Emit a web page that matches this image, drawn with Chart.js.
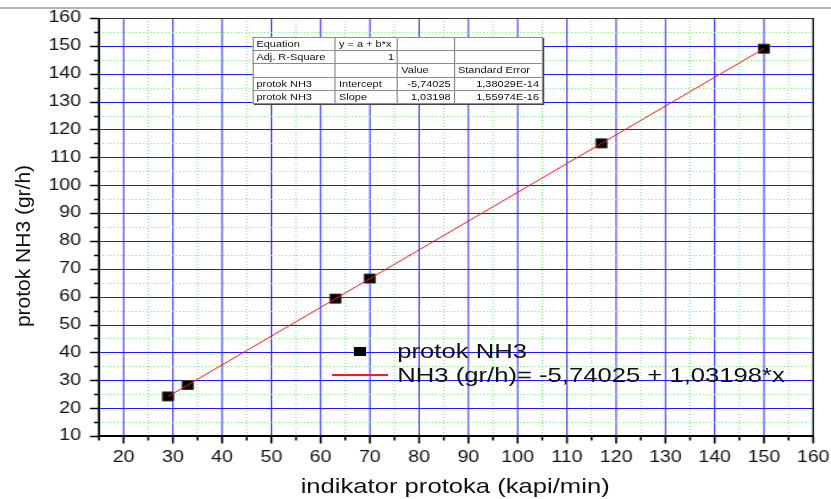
<!DOCTYPE html>
<html>
<head>
<meta charset="utf-8">
<script src="https://cdn.jsdelivr.net/npm/chart.js@4.4.1/dist/chart.umd.min.js"></script>
<style>
  body { margin: 0; background: #fff; width: 831px; height: 499px; overflow: hidden; position: relative; font-family: Arial, "Liberation Sans", sans-serif; }
  #pageline { position: absolute; left: 0; top: 7px; width: 831px; height: 2px; background: #b4b4b4; }
  /* the original picture is stretched sideways, so the whole chart is too */
  #wrap { position: absolute; left: 0; top: 0; width: 681px; height: 499px; transform: scaleX(1.2203); transform-origin: 0 0; }
  #fitTable { position: absolute; left: 206.6px; top: 36.7px; border-collapse: collapse; table-layout: fixed; background: #fff; font-size: 9px; color: #111; box-shadow: 1px 1px 0 #444; }
  #fitTable td { border: 1px solid #8c8c8c; height: 12.3px; padding: 0 2.5px; line-height: 12px; white-space: nowrap; overflow: hidden; }
  #fitTable td.r { text-align: right; }
  .leg { position: absolute; font-size: 21px; line-height: 24px; color: #111; white-space: nowrap; }
  #xTitle { position: absolute; left: 173px; width: 400px; top: 474px; text-align: center; font-size: 21px; line-height: 24px; color: #111; }
  #yTitle { position: absolute; left: -127px; top: 234px; width: 300px; text-align: center; font-size: 21px; line-height: 24px; color: #111; transform: rotate(-90deg); }
</style>
</head>
<body>
<div id="pageline"></div>
<div id="wrap">
  <canvas id="nh3-chart" width="681" height="499"></canvas>
  <table id="fitTable">
    <colgroup><col style="width:67.7px"><col style="width:51.1px"><col style="width:46.4px"><col style="width:72.5px"></colgroup>
    <tr><td>Equation</td><td>y = a + b*x</td><td></td><td></td></tr>
    <tr><td>Adj. R-Square</td><td class="r">1</td><td></td><td></td></tr>
    <tr><td></td><td></td><td>Value</td><td>Standard Error</td></tr>
    <tr><td>protok NH3</td><td>Intercept</td><td class="r">-5,74025</td><td class="r">1,38029E-14</td></tr>
    <tr><td>protok NH3</td><td>Slope</td><td class="r">1,03198</td><td class="r">1,55974E-16</td></tr>
  </table>
  <div style="position:absolute; left:290.1px; top:347px; width:9.8px; height:9px; background:#000;"></div>
  <div class="leg" style="left:325.6px; top:339px;">protok NH3</div>
  <div style="position:absolute; left:272px; top:374.4px; width:46px; height:1.3px; background:#ff1a1a;"></div>
  <div class="leg" style="left:325.6px; top:363px;">NH3 (gr/h)= -5,74025 + 1,03198*x</div>
  <div id="xTitle">indikator protoka (kapi/min)</div>
</div>
<div id="yTitle">protok NH3 (gr/h)</div>

<script>
// measured points (indikator protoka vs protok NH3)
const flowX = [29, 33, 63, 70, 117, 150];
const flowY = [24.2, 28.3, 59.3, 66.5, 115.0, 149.0];

// linear fit drawn between the first and last point
const fitX = [29, 150];
const fitY = [24.19, 149.06];

// tick labels
const xTicks = [20, 30, 40, 50, 60, 70, 80, 90, 100, 110, 120, 130, 140, 150, 160];
const yTicks = [10, 20, 30, 40, 50, 60, 70, 80, 90, 100, 110, 120, 130, 140, 150, 160];

const xMin = 15, xMax = 160;
const yMin = 10, yMax = 160;

const pointsData = flowX.map((x, i) => ({x: x, y: flowY[i]}));
const fitData = fitX.map((x, i) => ({x: x, y: fitY[i]}));

// grid, frame and tick marks, Origin style
const originFrame = {
  id: 'originFrame',
  beforeDatasetsDraw(chart) {
    const ctx = chart.ctx;
    const area = chart.chartArea;
    const xs = chart.scales.x, ys = chart.scales.y;
    ctx.save();
    for (let v = xMin + 5; v < xMax; v += 5) {
      const px = xs.getPixelForValue(v);
      ctx.beginPath();
      if (v % 10 === 0) { ctx.strokeStyle = '#0000ff'; ctx.setLineDash([]); ctx.lineWidth = 0.85; }
      else { ctx.strokeStyle = '#6ef06e'; ctx.setLineDash([1, 2]); ctx.lineWidth = 1; }
      ctx.moveTo(px, area.top);
      ctx.lineTo(px, area.bottom);
      ctx.stroke();
    }
    for (let v = yMin + 5; v < yMax; v += 5) {
      const py = Math.round(ys.getPixelForValue(v)) + 0.5;
      ctx.beginPath();
      if (v % 10 === 0) { ctx.strokeStyle = '#1a1aff'; ctx.setLineDash([]); ctx.lineWidth = 1; }
      else { ctx.strokeStyle = '#6ef06e'; ctx.setLineDash([1, 2]); ctx.lineWidth = 1; }
      ctx.moveTo(area.left, py);
      ctx.lineTo(area.right, py);
      ctx.stroke();
    }
    ctx.restore();
  },
  afterDraw(chart) {
    const ctx = chart.ctx;
    const area = chart.chartArea;
    const xs = chart.scales.x, ys = chart.scales.y;
    ctx.save();
    ctx.setLineDash([]);
    // top and right frame
    ctx.lineWidth = 1;
    ctx.strokeStyle = '#333';
    ctx.beginPath();
    ctx.moveTo(area.left, area.top + 0.5);
    ctx.lineTo(area.right, area.top + 0.5);
    ctx.stroke();
    ctx.strokeStyle = '#000';
    ctx.lineWidth = 1.3;
    ctx.beginPath();
    ctx.moveTo(area.right, area.top);
    ctx.lineTo(area.right, area.bottom);
    ctx.stroke();
    // left and bottom axes
    ctx.lineWidth = 1.7;
    ctx.beginPath();
    ctx.moveTo(area.left, area.top);
    ctx.lineTo(area.left, area.bottom + 1);
    ctx.stroke();
    ctx.lineWidth = 2;
    ctx.beginPath();
    ctx.moveTo(area.left - 1, area.bottom);
    ctx.lineTo(area.right + 0.6, area.bottom);
    ctx.stroke();
    // y tick marks
    ctx.lineWidth = 1.5;
    for (let v = yMin; v <= yMax; v += 5) {
      const py = Math.round(ys.getPixelForValue(v)) + 0.5;
      const len = v % 10 === 0 ? 7.4 : 4.1;
      ctx.beginPath();
      ctx.moveTo(area.left, py);
      ctx.lineTo(area.left - len, py);
      ctx.stroke();
    }
    // x tick marks
    ctx.lineWidth = 1.6;
    for (let v = xMin; v <= xMax; v += 5) {
      const px = xs.getPixelForValue(v);
      const len = v % 10 === 0 ? 7.5 : 4.5;
      ctx.beginPath();
      ctx.moveTo(px, area.bottom);
      ctx.lineTo(px, area.bottom + len);
      ctx.stroke();
    }
    ctx.restore();
  }
};

const canvas = document.getElementById('nh3-chart');

new Chart(canvas, {
  type: 'scatter',
  data: {
    datasets: [
      {
        label: 'NH3 (gr/h)= -5,74025 + 1,03198*x',
        data: fitData,
        showLine: true,
        borderColor: '#ff1010',
        borderWidth: 1,
        pointRadius: 0,
        pointHoverRadius: 0,
        fill: false
      },
      {
        label: 'protok NH3',
        data: pointsData,
        showLine: false,
        pointStyle: 'rect',
        pointRadius: 6.4,
        pointHoverRadius: 6.4,
        backgroundColor: '#000',
        borderColor: '#3a3a3a',
        borderWidth: 1
      }
    ]
  },
  options: {
    responsive: false,
    animation: false,
    events: [],
    layout: { padding: { left: 0, right: 14.6, top: 18, bottom: 0 } },
    plugins: {
      legend: { display: false },
      tooltip: { enabled: false }
    },
    scales: {
      x: {
        type: 'linear',
        min: xMin,
        max: xMax,
        grid: { display: false, drawTicks: false },
        border: { display: false },
        afterBuildTicks: (scale) => { scale.ticks = xTicks.map(v => ({value: v})); },
        ticks: {
          autoSkip: false,
          maxRotation: 0,
          padding: 12,
          color: '#111',
          font: { family: 'Arial, "Liberation Sans"', size: 16 }
        },
        afterFit: (scale) => {
          scale.height = 63;
          scale.paddingLeft = 0;
          scale.paddingRight = 0;
        }
      },
      y: {
        type: 'linear',
        min: yMin,
        max: yMax,
        grid: { display: false, drawTicks: false },
        border: { display: false },
        afterBuildTicks: (scale) => { scale.ticks = yTicks.map(v => ({value: v})); },
        ticks: {
          autoSkip: false,
          padding: 14.7,
          color: '#111',
          font: { family: 'Arial, "Liberation Sans"', size: 16 }
        },
        afterFit: (scale) => {
          scale.width = 81.1;
          scale.paddingTop = 0;
          scale.paddingBottom = 0;
        }
      }
    }
  },
  plugins: [originFrame]
});
</script>
</body>
</html>
